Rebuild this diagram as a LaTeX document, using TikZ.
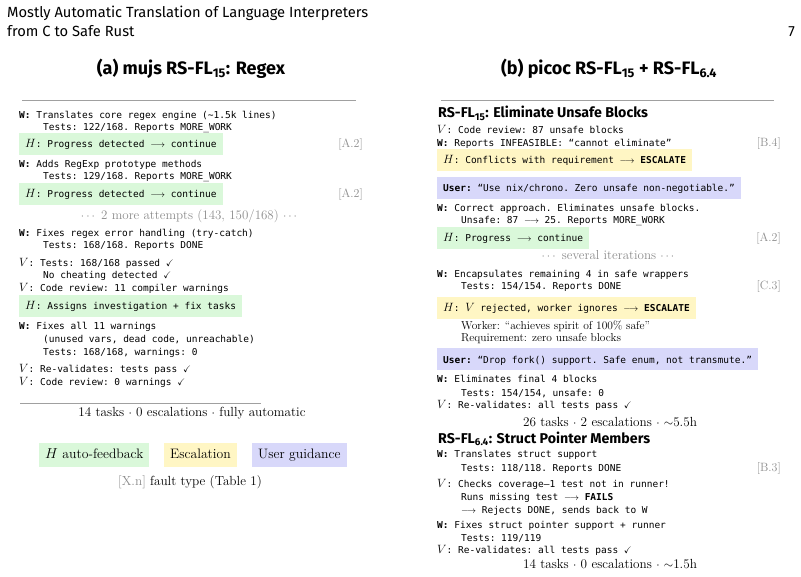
\documentclass[tikz,border=0pt]{standalone}
\usepackage{fontspec}
\usepackage{amsmath, amssymb}
\usepackage{tikz}
\setmonofont{DejaVu Sans Mono}
\setsansfont{Fira Sans}

\definecolor{hgreen}{RGB}{218,248,218}
\definecolor{escyellow}{RGB}{255,246,196}
\definecolor{userblue}{RGB}{216,216,250}
\definecolor{taggray}{RGB}{140,140,140}
\definecolor{rulegray}{RGB}{160,160,160}

\newcommand{\Hf}{{\fontsize{12.5}{14}\selectfont$H$}}
\newcommand{\Vf}{{\fontsize{12.5}{14}\selectfont$V$}}
\newcommand{\Wk}{\textbf{W:}}
\newcommand{\okmark}{$\checkmark$}
\newcommand{\tto}{$\longrightarrow$}
\newcommand{\tld}{\textasciitilde}

\tikzset{
    ln/.style={anchor=base west, inner sep=0pt, font=\ttfamily\fontsize{9.5}{12}\selectfont},
    fbox/.style={ln, inner xsep=6pt, inner ysep=0pt, text height=14.5pt, text depth=7.5pt},
    hbox/.style={fbox, fill=hgreen},
    ebox/.style={fbox, fill=escyellow},
    ubox/.style={fbox, fill=userblue},
    tag/.style={anchor=base east, inner sep=0pt, text=taggray, font=\fontsize{12}{14}\selectfont},
    note/.style={anchor=base, inner sep=0pt, text=taggray, font=\fontsize{13}{15}\selectfont},
    sumline/.style={anchor=base, inner sep=0pt, font=\fontsize{13.2}{15}\selectfont},
    serifln/.style={anchor=base west, inner sep=0pt, font=\fontsize{11.5}{14}\selectfont},
    legend/.style={anchor=base west, inner xsep=6pt, inner ysep=0pt, text height=15pt, text depth=9pt, font=\fontsize{13.7}{16}\selectfont},
    header/.style={anchor=base west, inner sep=0pt, font=\sffamily\fontsize{14.7}{17}\selectfont},
    title/.style={anchor=base, inner sep=0pt, font=\sffamily\bfseries\fontsize{18}{21}\selectfont},
    subhead/.style={anchor=base west, inner sep=0pt, font=\sffamily\bfseries\fontsize{14.2}{17}\selectfont},
    rule/.style={draw=rulegray, line width=0.9pt}
}

\begin{document}
\begin{tikzpicture}[x=1pt, y=-1pt]
    \useasboundingbox (0,0) rectangle (801,577);

    \node[header] at (7,18) (hd1) {Mostly Automatic Translation of Language Interpreters};
    \node[header] at (7,37) (hd2) {from C to Safe Rust};
    \node[header, anchor=base east] at (795,37) (pg) {7};

    \node[title] at (191,75) (ta) {(a) mujs RS-FL\textsubscript{15}: Regex};
    \node[title] at (609,75) (tb) {(b) picoc RS-FL\textsubscript{15} + RS-FL\textsubscript{6.4}};
    \draw[rule] (22,100) -- (356,100);
    \draw[rule] (441,100) -- (774,100);

    % (a) mujs
    \node[ln] at (19,119) (a1) {\Wk{} Translates core regex engine (\tld1.5k lines)};
    \node[ln] at (43,131) (a1t) {Tests: 122/168. Reports MORE\_WORK};
    \node[hbox] at (19,148) (a2) {\Hf: Progress detected \tto{} continue};
    \node[tag] at (363,148) (a2tag) {[A.2]};
    \node[ln] at (19,168) (a3) {\Wk{} Adds RegExp prototype methods};
    \node[ln] at (43,180) (a3t) {Tests: 129/168. Reports MORE\_WORK};
    \node[hbox] at (19,198) (a4) {\Hf: Progress detected \tto{} continue};
    \node[tag] at (363,198) (a4tag) {[A.2]};
    \node[note] at (190,220) (a5) {$\cdots$ 2 more attempts (143, 150/168) $\cdots$};
    \node[ln] at (19,237) (a6) {\Wk{} Fixes regex error handling (try-catch)};
    \node[ln] at (43,249) (a6t) {Tests: 168/168. Reports DONE};
    \node[ln] at (19,267) (a7) {\Vf: Tests: 168/168 passed \okmark};
    \node[ln] at (43,279) (a7b) {No cheating detected \okmark};
    \node[ln] at (19,292) (a8) {\Vf: Code review: 11 compiler warnings};
    \node[hbox] at (19,310) (a9) {\Hf: Assigns investigation + fix tasks};
    \node[ln] at (19,330) (a10) {\Wk{} Fixes all 11 warnings};
    \node[ln] at (43,343) (a10b) {(unused vars, dead code, unreachable)};
    \node[ln] at (43,356) (a10t) {Tests: 168/168, warnings: 0};
    \node[ln] at (19,373) (a11) {\Vf: Re-validates: tests pass \okmark};
    \node[ln] at (19,385) (a12) {\Vf: Code review: 0 warnings \okmark};
    \draw[rule] (20,403) -- (261,403);
    \node[sumline] at (192,417) (asum) {14 tasks $\cdot$ 0 escalations $\cdot$ fully automatic};

    % legend
    \node[legend, fill=hgreen] at (39,458) (lg1) {$H$ auto-feedback};
    \node[legend, fill=escyellow] at (164,458) (lg2) {Escalation};
    \node[legend, fill=userblue] at (252,458) (lg3) {User guidance};
    \node[sumline] at (190,485) (lg4) {\textcolor{taggray}{[X.n]} fault type (Table 1)};

    % (b) picoc, RS-FL15
    \node[subhead] at (438,118) (b0) {RS-FL\textsubscript{15}: Eliminate Unsafe Blocks};
    \node[ln] at (437,134) (b1) {\Vf: Code review: 87 unsafe blocks};
    \node[ln] at (437,147) (b2) {\Wk{} Reports INFEASIBLE: “cannot eliminate”};
    \node[tag] at (781,147) (b2tag) {[B.4]};
    \node[ebox] at (437,164) (b3) {\Hf: Conflicts with requirement \tto{} \textbf{ESCALATE}};
    \node[ubox] at (437,192) (b4) {\textbf{User:} “Use nix/chrono. Zero unsafe non-negotiable.”};
    \node[ln] at (437,212) (b5) {\Wk{} Correct approach. Eliminates unsafe blocks.};
    \node[ln] at (461,224) (b5t) {Unsafe: 87 \tto{} 25. Reports MORE\_WORK};
    \node[hbox] at (437,242) (b6) {\Hf: Progress \tto{} continue};
    \node[tag] at (781,242) (b6tag) {[A.2]};
    \node[note] at (609,260) (b7) {$\cdots$ several iterations $\cdots$};
    \node[ln] at (437,278) (b8) {\Wk{} Encapsulates remaining 4 in safe wrappers};
    \node[ln] at (461,290) (b8t) {Tests: 154/154. Reports DONE};
    \node[tag] at (781,290) (b8tag) {[C.3]};
    \node[ebox] at (437,312) (b9) {\Hf: \Vf{} rejected, worker ignores \tto{} \textbf{ESCALATE}};
    \node[serifln] at (461,330) (b10) {Worker: “achieves spirit of 100\% safe”};
    \node[serifln] at (461,342) (b10b) {Requirement: zero unsafe blocks};
    \node[ubox] at (437,363) (b11) {\textbf{User:} “Drop fork() support. Safe enum, not transmute.”};
    \node[ln] at (437,383) (b12) {\Wk{} Eliminates final 4 blocks};
    \node[ln] at (461,396) (b12t) {Tests: 154/154, unsafe: 0};
    \node[ln] at (437,409) (b13) {\Vf: Re-validates: all tests pass \okmark};
    \node[sumline] at (610,426) (bsum) {26 tasks $\cdot$ 2 escalations $\cdot$ $\sim$5.5h};

    % (b) picoc, RS-FL6.4
    \node[subhead] at (438,443) (c0) {RS-FL\textsubscript{6.4}: Struct Pointer Members};
    \node[ln] at (437,457) (c1) {\Wk{} Translates struct support};
    \node[ln] at (461,471) (c1t) {Tests: 118/118. Reports DONE};
    \node[tag] at (781,471) (c1tag) {[B.3]};
    \node[ln] at (437,487) (c2) {\Vf: Checks coverage—1 test not in runner!};
    \node[ln] at (461,500) (c2b) {Runs missing test \tto{} \textbf{FAILS}};
    \node[ln] at (461,513) (c2c) {\tto{} Rejects DONE, sends back to W};
    \node[ln] at (437,528) (c3) {\Wk{} Fixes struct pointer support + runner};
    \node[ln] at (461,541) (c3t) {Tests: 119/119};
    \node[ln] at (437,553) (c4) {\Vf: Re-validates: all tests pass \okmark};
    \node[sumline] at (610,568) (csum) {14 tasks $\cdot$ 0 escalations $\cdot$ $\sim$1.5h};
\end{tikzpicture}
\end{document}
